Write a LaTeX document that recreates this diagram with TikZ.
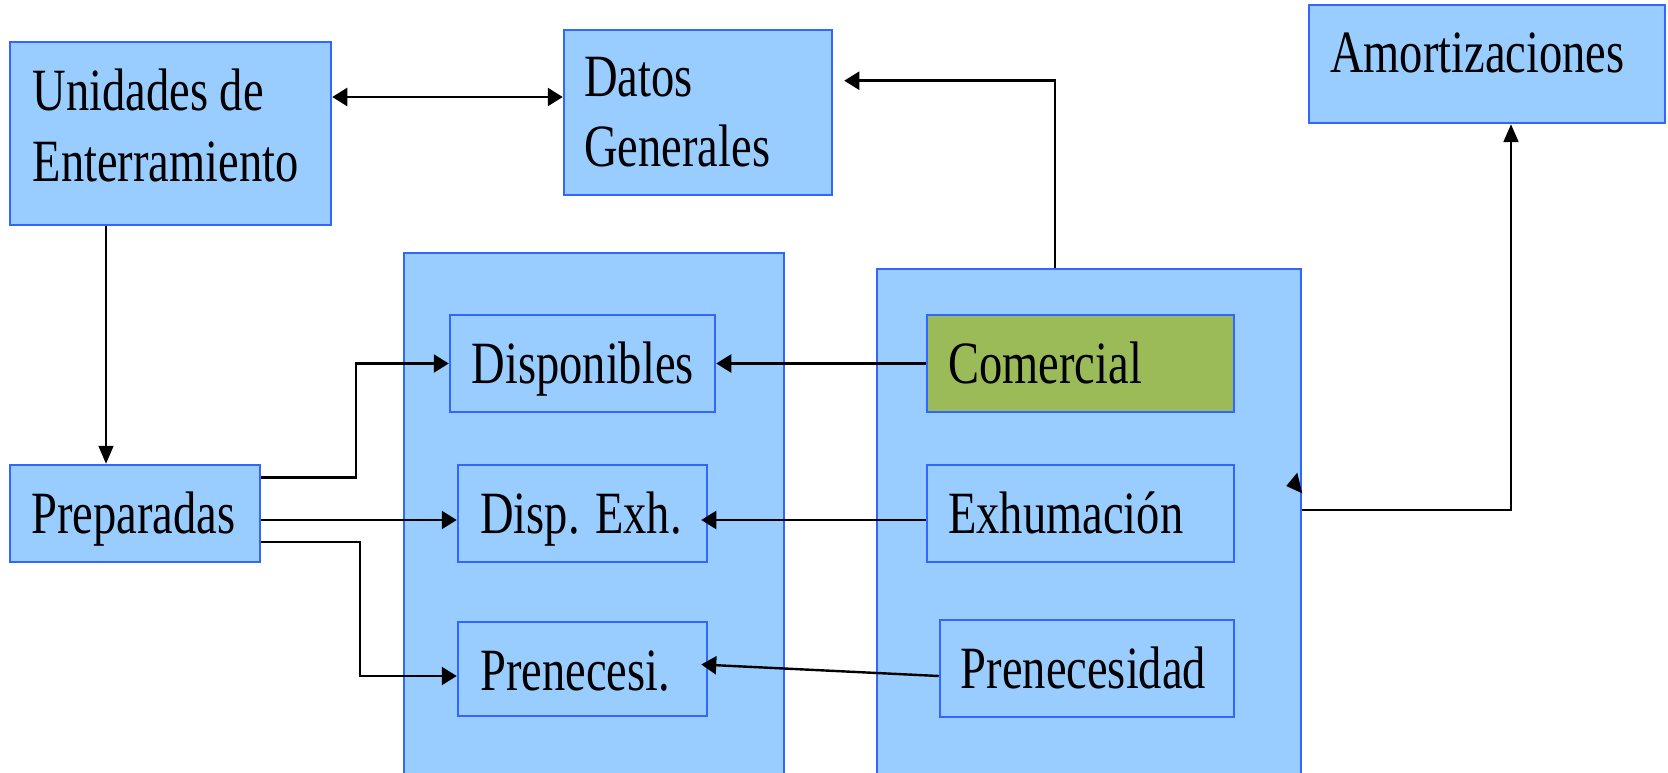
\documentclass[tikz,border=0pt]{standalone}
\usepackage{fontspec}
\newfontfamily\cf[FakeStretch=0.775]{Liberation Serif}
\usetikzlibrary{arrows.meta}
\definecolor{boxfill}{HTML}{99CCFF}
\definecolor{boxline}{HTML}{3366FF}
\definecolor{greenfill}{HTML}{9BBB59}
\begin{document}
\begin{tikzpicture}[x=1pt,y=-1pt,
  box/.style={draw=boxline, fill=boxfill, line width=2.5pt, rectangle, inner sep=0pt},
  gbox/.style={box, fill=greenfill},
  txt/.style={font=\cf\fontsize{60}{70}\selectfont, anchor=base west, inner sep=0pt},
  conn/.style={line width=2.4pt, -{Triangle[length=15pt,width=18pt]}},
  thinconn/.style={line width=1.8pt, -{Triangle[length=18pt,width=15pt]}},
  dblconn/.style={line width=2.4pt, {Triangle[length=15pt,width=18pt]}-{Triangle[length=15pt,width=18pt]}}]
\useasboundingbox (0,0) rectangle (1668,773);
\fill[white] (0,0) rectangle (1668,773);
% containers
\node[box, minimum width=380pt, minimum height=537pt] (contL) at (594,521.5) {};
\node[box, minimum width=424pt, minimum height=521pt] (contR) at (1089,529.5) {};
% top boxes
\node[box, minimum width=321pt, minimum height=183pt] (unid) at (170.5,133.5) {};
\node[box, minimum width=268pt, minimum height=165pt] (datos) at (698,112.5) {};
\node[box, minimum width=356pt, minimum height=118pt] (amort) at (1487,64) {};
\node[box, minimum width=250pt, minimum height=97pt] (prep) at (135,513.5) {};
% inner boxes
\node[box, minimum width=265pt, minimum height=97pt] (disp) at (582.5,363.5) {};
\node[box, minimum width=249pt, minimum height=97pt] (dexh) at (582.5,513.5) {};
\node[box, minimum width=249pt, minimum height=94pt] (pren) at (582.5,669) {};
\node[gbox, minimum width=307pt, minimum height=97pt] (com) at (1080.5,363.5) {};
\node[box, minimum width=307pt, minimum height=97pt] (exh) at (1080.5,513.5) {};
\node[box, minimum width=294pt, minimum height=97pt] (prend) at (1087,668.5) {};
% texts
\node[txt] (t-unid1) at (32.5,111) {Unidades de};
\node[txt] (t-unid2) at (32.5,181) {Enterramiento};
\node[txt] (t-datos1) at (584,97) {Datos};
\node[txt] (t-datos2) at (584,167) {Generales};
\node[txt] (t-amort) at (1330,73) {Amortizaciones};
\node[txt] (t-prep) at (31,533) {Preparadas};
\node[txt] (t-disp) at (471.5,383) {Disponibles};
\node[txt] (t-dexh) at (480,533) {Disp. Exh.};
\node[txt] (t-pren) at (480,690) {Prenecesi.};
\node[txt] (t-com) at (948,383) {Comercial};
\node[txt] (t-exh) at (948,533) {Exhumación};
\node[txt] (t-prend) at (960.6,688) {Prenecesidad};
% connectors
\draw[dblconn] ([yshift=36.5pt]unid.east) -- ([yshift=15.5pt]datos.west);
\draw[thinconn] ([xshift=-64.5pt]unid.south) -- ([xshift=-29pt]prep.north);
\draw[conn] ([xshift=-34pt]contR.north) |- ([xshift=11pt,yshift=31.8pt]datos.east);
\draw[thinconn, line width=2.2pt] ([yshift=19.5pt]contR.east) -| ([xshift=24pt]amort.south);
\fill ([xshift=-5pt,yshift=56.8pt]contR.east) -- ([xshift=-16pt,yshift=43.5pt]contR.east) -- ([yshift=36.2pt]contR.east) -- cycle;
\draw[conn] ([yshift=36pt]prep.east) -- ++(95,0) |- (disp.west);
\draw[conn] ([yshift=-6.5pt]prep.east) -- ([yshift=-6.5pt]dexh.west);
\draw[conn] ([yshift=-28.2pt]prep.east) -- ++(99,0) |- ([yshift=-7pt]pren.west);
\draw[conn] (com.west) -- (disp.east);
\draw[conn] ([yshift=-6.5pt]exh.west) -- ([xshift=-7pt,yshift=-6.5pt]dexh.east);
\draw[conn] ([yshift=-7.5pt]prend.west) -- ([xshift=-7pt,yshift=4.5pt]pren.east);
\end{tikzpicture}
\end{document}
